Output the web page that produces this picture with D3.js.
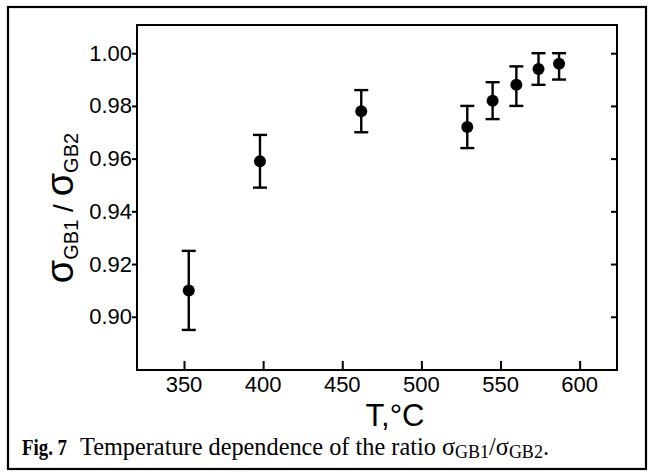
<!DOCTYPE html>
<html><head><meta charset="utf-8">
<script src="https://cdn.jsdelivr.net/npm/d3@7/dist/d3.min.js"></script>
<style>body{margin:0;background:#fff}svg{display:block}</style>
</head><body>
<script>
const temperature = [353, 398, 462, 529, 545, 560, 574, 587];
const ratio       = [0.910, 0.959, 0.978, 0.972, 0.982, 0.988, 0.994, 0.996];
const errLow      = [0.895, 0.949, 0.970, 0.964, 0.975, 0.980, 0.988, 0.990];
const errHigh     = [0.925, 0.969, 0.986, 0.980, 0.989, 0.995, 1.000, 1.000];
const xTicks = [350, 400, 450, 500, 550, 600];
const yTicks = [0.90, 0.92, 0.94, 0.96, 0.98, 1.00];

const W = 650, H = 472;
const svg = d3.select("body").append("svg").attr("width", W).attr("height", H);
const L = 137, R = 617, T = 25, B = 370;
const x = d3.scaleLinear().domain([320.3, 623.6]).range([L, R]);
const y = d3.scaleLinear().domain([0.8798, 1.0107]).range([B, T]);

// outer figure frame
svg.append("rect").attr("x", 8).attr("y", 7).attr("width", 638).attr("height", 462)
  .attr("fill", "none").attr("stroke", "#000").attr("stroke-width", 2.2);

// plot box
svg.append("rect").attr("x", L).attr("y", T).attr("width", R - L).attr("height", B - T)
  .attr("fill", "none").attr("stroke", "#000").attr("stroke-width", 2);

const font = "'Liberation Sans', Arial, Helvetica, sans-serif";

// left axis: ticks outward
const yAxis = d3.axisLeft(y).tickValues(yTicks).tickFormat(d3.format(".2f")).tickSize(5).tickPadding(0);
const gy = svg.append("g").attr("transform", `translate(${L},0)`).call(yAxis);
gy.select(".domain").remove();
gy.selectAll("line").attr("stroke-width", 2);
gy.selectAll("text").attr("font-family", font).attr("font-size", 22).attr("fill", "#000");

// right axis: ticks inward
const yAxisR = d3.axisLeft(y).tickValues(yTicks).tickFormat("").tickSize(6);
const gyr = svg.append("g").attr("transform", `translate(${R},0)`).call(yAxisR);
gyr.select(".domain").remove();
gyr.selectAll("line").attr("stroke-width", 2);

// bottom axis: ticks inward
const xAxis = d3.axisTop(x).tickValues(xTicks).tickFormat("").tickSize(9);
const gx = svg.append("g").attr("transform", `translate(0,${B})`).call(xAxis);
gx.select(".domain").remove();
gx.selectAll("line").attr("stroke-width", 2);
svg.append("g").selectAll("text").data(xTicks).join("text")
  .attr("x", d => x(d)).attr("y", B + 22)
  .attr("text-anchor", "middle").attr("font-family", font).attr("font-size", 22)
  .text(d => d);

// error bars
const idx = d3.range(temperature.length);
const eb = svg.append("g").attr("stroke", "#000").attr("stroke-width", 2.4);
eb.selectAll("line.v").data(idx).join("line").attr("class", "v")
  .attr("x1", i => x(temperature[i])).attr("x2", i => x(temperature[i]))
  .attr("y1", i => y(errLow[i])).attr("y2", i => y(errHigh[i]));
eb.selectAll("line.t").data(idx).join("line").attr("class", "t")
  .attr("x1", i => x(temperature[i]) - 7).attr("x2", i => x(temperature[i]) + 7)
  .attr("y1", i => y(errHigh[i])).attr("y2", i => y(errHigh[i]));
eb.selectAll("line.b").data(idx).join("line").attr("class", "b")
  .attr("x1", i => x(temperature[i]) - 7).attr("x2", i => x(temperature[i]) + 7)
  .attr("y1", i => y(errLow[i])).attr("y2", i => y(errLow[i]));

// points
svg.append("g").selectAll("circle").data(idx).join("circle")
  .attr("cx", i => x(temperature[i])).attr("cy", i => y(ratio[i])).attr("r", 6).attr("fill", "#000");

// x title
svg.append("text").attr("x", 395).attr("y", 426).attr("text-anchor", "middle")
  .attr("font-family", font).attr("font-size", 31).text("T,°C");

// y title
const yt = svg.append("text").attr("transform", "translate(73,208) rotate(-90)")
  .attr("text-anchor", "middle").attr("font-family", font);
yt.append("tspan").attr("font-size", 38).text("σ");
yt.append("tspan").attr("font-size", 20).attr("dy", 5).text("GB1");
yt.append("tspan").attr("font-size", 28).attr("font-weight", "300").attr("dy", -5).text(" / ");
yt.append("tspan").attr("font-size", 38).text("σ");
yt.append("tspan").attr("font-size", 20).attr("dy", 5).text("GB2");

// caption
const serif = "'Liberation Serif', 'Times New Roman', Times, serif";
svg.append("text").attr("x", 22).attr("y", 455).attr("font-family", serif).attr("font-size", 24)
  .attr("font-weight", "bold").attr("textLength", 45).attr("lengthAdjust", "spacingAndGlyphs")
  .text("Fig. 7");
const cap = svg.append("text").attr("x", 80).attr("y", 455).attr("font-family", serif).attr("font-size", 24.3);
cap.append("tspan").text("Temperature dependence of the ratio σ");
cap.append("tspan").attr("font-size", 18).attr("dy", 3).text("GB1");
cap.append("tspan").attr("dy", -3).text("/σ");
cap.append("tspan").attr("font-size", 18).attr("dy", 3).text("GB2");
cap.append("tspan").attr("dy", -3).text(".");
</script>
</body></html>
